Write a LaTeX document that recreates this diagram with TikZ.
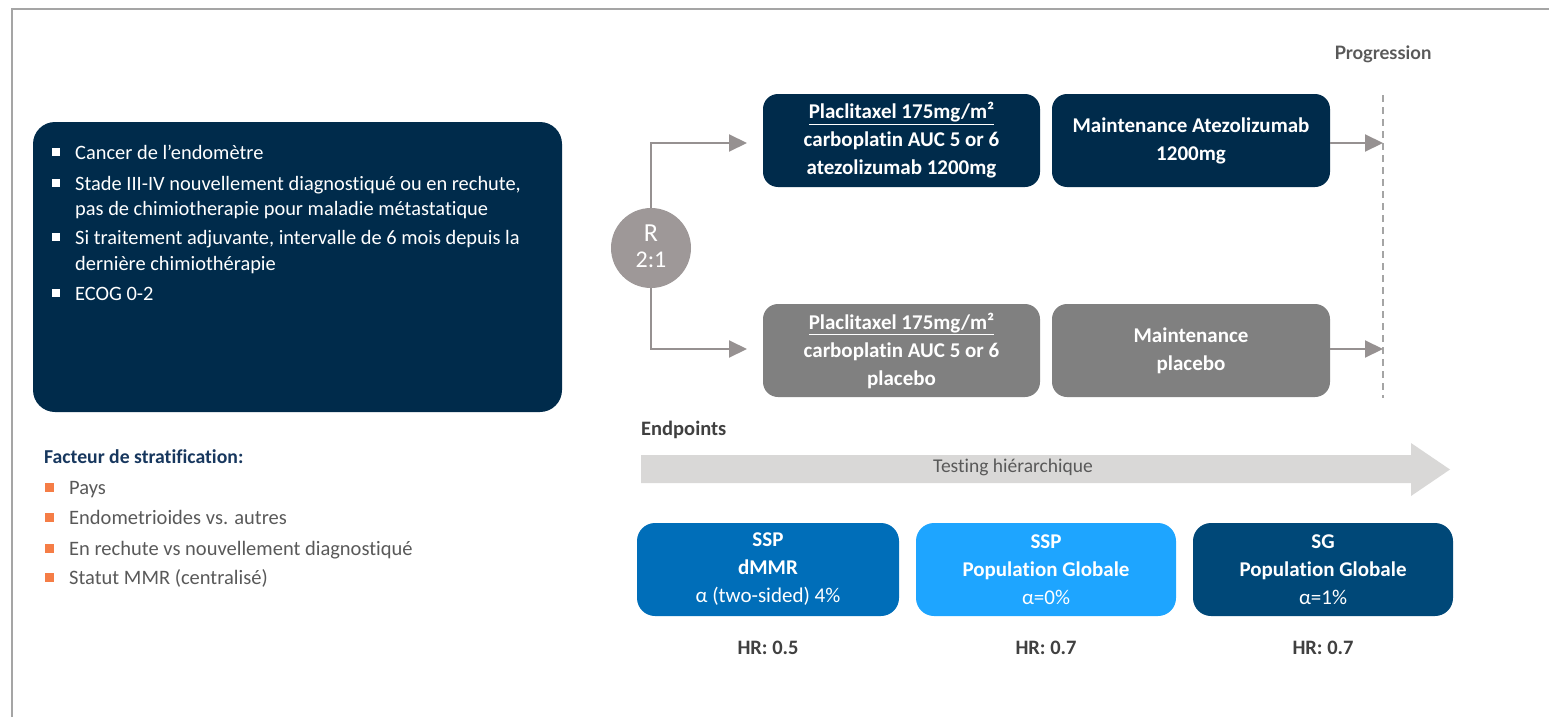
\documentclass[tikz,border=0pt]{standalone}
\usepackage{fontspec}
\setmainfont{Carlito}[Ligatures=NoCommon]
\newfontfamily\latofont{Lato}
\usetikzlibrary{arrows.meta}
\definecolor{navy}{RGB}{0,43,75}
\definecolor{armgray}{RGB}{128,128,128}
\definecolor{rgray}{RGB}{158,152,152}
\definecolor{lgray}{RGB}{150,145,145}
\definecolor{bigarrow}{RGB}{217,216,215}
\definecolor{txtgray}{RGB}{89,89,89}
\definecolor{dkgray}{RGB}{64,64,64}
\definecolor{blueA}{RGB}{0,110,185}
\definecolor{blueB}{RGB}{30,165,255}
\definecolor{blueC}{RGB}{0,72,120}
\definecolor{orangeb}{RGB}{245,125,70}
\definecolor{framegray}{RGB}{165,165,165}
\definecolor{stratblue}{RGB}{23,55,94}
\newcommand\fsz[2]{\fontsize{#1}{#2}\selectfont}
\begin{document}
\begin{tikzpicture}[x=1pt,y=-1pt,
  armbox/.style={rounded corners=15pt, minimum width=277pt, minimum height=93pt, inner sep=0pt,
     text=white, align=center, font=\bfseries\fsz{21}{28}},
  epbox/.style={rounded corners=18pt, minimum width=260pt, minimum height=93pt, inner sep=0pt,
     text=white, align=center, font=\fsz{21}{28}},
  lbl/.style={inner sep=0pt, anchor=base west},
  wsq/.style={fill=white, minimum size=8pt, inner sep=0pt},
  osq/.style={fill=orangeb, minimum size=9pt, inner sep=0pt},
  conn/.style={draw=lgray, line width=2pt, -{Triangle[length=18pt,width=17pt]}},
  hr/.style={inner sep=0pt, text=dkgray, font=\bfseries\fsz{20.5}{24}}
]
\useasboundingbox (0,0) rectangle (1549,717);
% frame
\draw[framegray, line width=1.5pt] (12,717) -- (12,9) -- (1549,9);

% left inclusion box
\node[fill=navy, rounded corners=22pt, minimum width=529pt, minimum height=290pt, inner sep=0pt] (incl) at (297.5,267) {};
\node[wsq] (b1) at (56,152) {};
\node[wsq] (b2) at (56,183) {};
\node[wsq] (b3) at (56,237) {};
\node[wsq] (b4) at (56,293) {};
\begin{scope}[every node/.style={lbl, text=white, font=\fsz{20.4}{24}}]
\node (l1) at (75,159) {Cancer de l’endomètre};
\node (l2) at (75,190) {Stade III-IV nouvellement diagnostiqué ou en rechute,};
\node (l3) at (75,215) {pas de chimiotherapie pour maladie métastatique};
\node (l4) at (75,244) {Si traitement adjuvante, intervalle de 6 mois depuis la};
\node (l5) at (75,270) {dernière chimiothérapie};
\node (l6) at (75,300) {ECOG 0-2};
\end{scope}

% stratification
\node[lbl, text=stratblue, font=\bfseries\fsz{19.7}{23}] (strat) at (44,463) {Facteur de stratification:};
\node[osq] (o1) at (49,487) {};
\node[osq] (o2) at (49,517) {};
\node[osq] (o3) at (49,548) {};
\node[osq] (o4) at (49,577) {};
\begin{scope}[every node/.style={lbl, text=txtgray, font=\fsz{20.5}{24}}]
\node (s1) at (69,494) {Pays};
\node (s2) at (69,524) {Endometrioides vs. autres};
\node (s3) at (69,555) {En rechute vs nouvellement diagnostiqué};
\node (s4) at (69,584) {Statut MMR (centralisé)};
\end{scope}

% randomisation
\node[circle, fill=rgray, minimum size=80pt, inner sep=0pt] (R) at (651,248) {};
\node[inner sep=0pt, text=white, font=\fsz{26}{28}] (Rt) at (651,233) {R};
\node[inner sep=0pt, text=white, font=\fsz{24}{26}] (Rr) at (651,260) {2:1};

% arms
\node[armbox, fill=navy] (t1) at (901.5,140.5) {\underline{Placlitaxel 175mg/m²}\\carboplatin AUC 5 or 6\\atezolizumab 1200mg};
\node[armbox, fill=navy, minimum width=278pt] (t2) at (1191,140.5) {Maintenance Atezolizumab\\1200mg};
\node[armbox, fill=armgray] (p1) at (901.5,350.5) {\underline{Placlitaxel 175mg/m²}\\carboplatin AUC 5 or 6\\placebo};
\node[armbox, fill=armgray, minimum width=278pt] (p2) at (1191,350.5) {Maintenance\\placebo};

\coordinate (ta) at (747,143);
\coordinate (pa) at (747,349);
\draw[conn] (R.north) |- (ta);
\draw[conn] (R.south) |- (pa);

% progression line
\coordinate (pt) at (1383,95);
\coordinate (pb) at (1383,398);
\draw[framegray, line width=1.5pt, dash pattern=on 7pt off 5pt] (pt) -- (pb);
\node[inner sep=0pt, text=txtgray, font=\latofont\bfseries\fsz{18.5}{22}] (prog) at (1383,54) {Progression};
\draw[conn] (t2.east |- ta) -- (pt |- ta);
\draw[conn] (p2.east |- pa) -- (pt |- pa);

% endpoints
\node[inner sep=0pt, anchor=west, text=dkgray, font=\bfseries\fsz{20.5}{24}] (ep) at (641,430) {Endpoints};
\fill[bigarrow] (641,455) -- (1411,455) -- (1411,443) -- (1450,469.5) -- (1411,496) -- (1411,483) -- (641,483) -- cycle;
\node[inner sep=0pt, text=txtgray, font=\fsz{19.5}{22}] (test) at (1013,467) {Testing hiérarchique};

\node[epbox, fill=blueA, minimum width=262pt] (e1) at (768,569.5) {\textbf{SSP}\\\textbf{dMMR}\\α (two-sided) 4\%};
\node[epbox, fill=blueB] (e2) at (1046,569.5) {\textbf{SSP}\\\textbf{Population Globale}\\α=0\%};
\node[epbox, fill=blueC] (e3) at (1323,569.5) {\textbf{SG}\\\textbf{Population Globale}\\α=1\%};

\node[hr] (h1) at (768,648) {HR: 0.5};
\node[hr] (h2) at (1046,648) {HR: 0.7};
\node[hr] (h3) at (1323,648) {HR: 0.7};
\end{tikzpicture}
\end{document}
